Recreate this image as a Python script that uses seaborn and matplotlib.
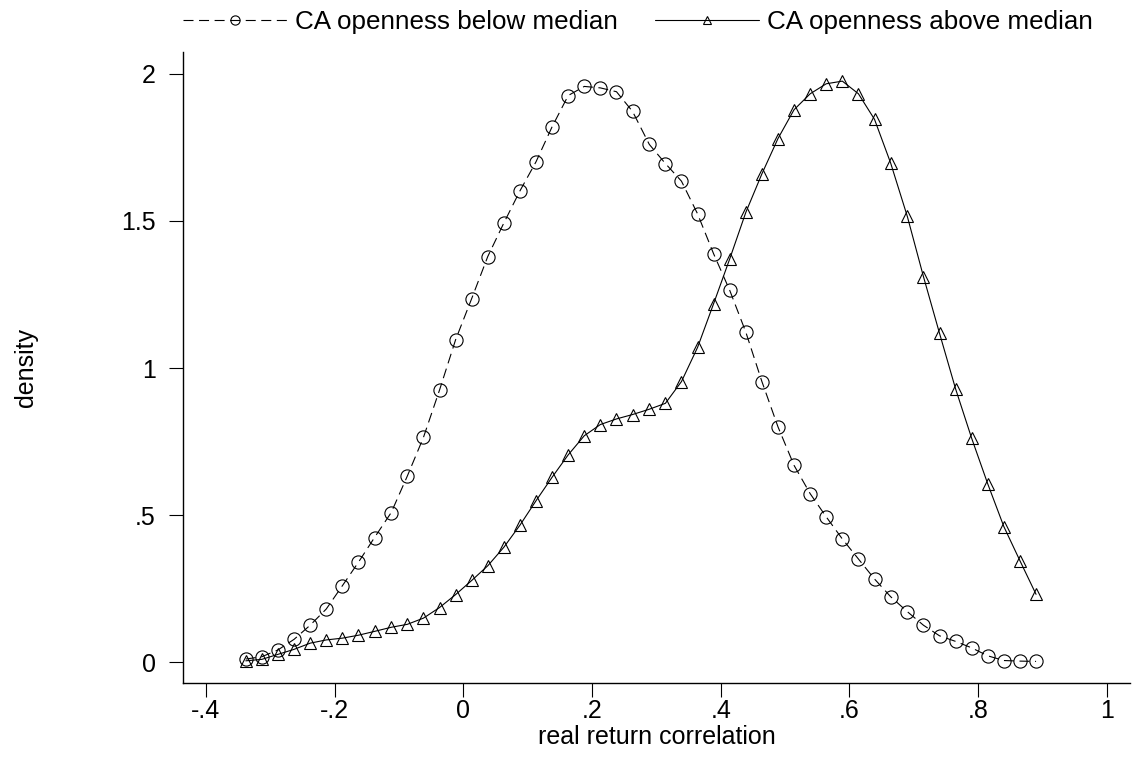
import matplotlib
matplotlib.use("Agg")
import matplotlib.pyplot as plt
import seaborn as sns
import numpy as np

# ---- data ----
x_grid = [-0.338, -0.313, -0.288, -0.263, -0.238, -0.213, -0.188, -0.163, -0.138, -0.112,
          -0.087, -0.062, -0.037, -0.012, 0.013, 0.038, 0.063, 0.088, 0.113, 0.138,
          0.163, 0.188, 0.213, 0.238, 0.263, 0.289, 0.314, 0.339, 0.364, 0.389,
          0.414, 0.439, 0.464, 0.489, 0.514, 0.539, 0.564, 0.589, 0.614, 0.639,
          0.664, 0.690, 0.715, 0.740, 0.765, 0.790, 0.815, 0.840, 0.865, 0.890]

density_below = [0.011, 0.019, 0.042, 0.078, 0.126, 0.181, 0.260, 0.340, 0.424, 0.509,
                 0.633, 0.764, 0.925, 1.096, 1.236, 1.379, 1.493, 1.602, 1.701, 1.820,
                 1.926, 1.957, 1.952, 1.939, 1.872, 1.760, 1.695, 1.635, 1.524, 1.388,
                 1.264, 1.122, 0.954, 0.800, 0.669, 0.573, 0.494, 0.419, 0.351, 0.283,
                 0.223, 0.172, 0.126, 0.090, 0.071, 0.049, 0.022, 0.006, 0.004, 0.003]

density_above = [0.005, 0.010, 0.027, 0.044, 0.065, 0.076, 0.082, 0.092, 0.105, 0.119,
                 0.129, 0.150, 0.186, 0.230, 0.278, 0.328, 0.391, 0.466, 0.549, 0.629,
                 0.705, 0.770, 0.808, 0.827, 0.842, 0.860, 0.880, 0.954, 1.070, 1.219,
                 1.371, 1.529, 1.660, 1.780, 1.878, 1.932, 1.966, 1.975, 1.932, 1.845,
                 1.697, 1.515, 1.311, 1.118, 0.929, 0.761, 0.606, 0.461, 0.345, 0.231]

label_below = "CA openness below median"
label_above = "CA openness above median"

x_ticks = [-0.4, -0.2, 0, 0.2, 0.4, 0.6, 0.8, 1]
x_tick_labels = ["-.4", "-.2", "0", ".2", ".4", ".6", ".8", "1"]
y_ticks = [0, 0.5, 1, 1.5, 2]
y_tick_labels = ["0", ".5", "1", "1.5", "2"]

# ---- style ----
sns.set_style("ticks")
plt.rcParams["font.family"] = ["Liberation Sans", "DejaVu Sans"]
plt.rcParams["text.color"] = "black"
plt.rcParams["axes.labelcolor"] = "black"
plt.rcParams["xtick.color"] = "black"
plt.rcParams["ytick.color"] = "black"
plt.rcParams["axes.edgecolor"] = "black"
FS = 18

fig = plt.figure(figsize=(11.35, 7.61), dpi=100)
ax = fig.add_axes([183 / 1135, (761 - 683.3) / 761, 947 / 1135, (683.3 - 51.7) / 761])

sns.lineplot(x=x_grid, y=density_below, ax=ax, color="black", linewidth=0.8,
             linestyle=(0, (9, 5)), marker="o", markersize=9.5,
             markerfacecolor="none", markeredgecolor="black", mew=0.8,
             label=label_below, sort=False, estimator=None)
sns.lineplot(x=x_grid, y=density_above, ax=ax, color="black", linewidth=0.8,
             linestyle="-", marker="^", markersize=8.5,
             markerfacecolor="none", markeredgecolor="black", mew=0.8,
             label=label_above, sort=False, estimator=None)

ax.set_xlim(-0.4356, 1.036)
ax.set_ylim(-0.0714, 2.075)
ax.set_xticks(x_ticks)
ax.set_xticklabels(x_tick_labels)
ax.set_yticks(y_ticks)
ax.set_yticklabels(y_tick_labels)
ax.tick_params(axis="both", direction="out", length=10, width=0.8, color="black",
               labelsize=FS, labelcolor="black")
ax.tick_params(axis="x", pad=1)
ax.tick_params(axis="y", pad=9.5)

for s in ["top", "right"]:
    ax.spines[s].set_visible(False)
for s in ["left", "bottom"]:
    ax.spines[s].set_linewidth(1.0)
    ax.spines[s].set_color("black")

ax.set_xlabel("real return correlation", fontsize=FS, labelpad=2, color="black")
ax.set_ylabel("density", fontsize=FS, color="black")
ax.yaxis.set_label_coords((38 - 183) / 947, 0.5)

handles, labels = ax.get_legend_handles_labels()
if ax.get_legend() is not None:
    ax.get_legend().remove()
leg = fig.legend(handles, labels, loc="center left", bbox_to_anchor=(183 / 1135, 1 - 22 / 761),
                 ncol=2, frameon=False, fontsize=18.7, handlelength=4.0, handletextpad=0.3,
                 columnspacing=1.45, borderpad=0, borderaxespad=0, markerscale=0.7)
for t in leg.get_texts():
    t.set_color("black")

fig.savefig("out.png", dpi=100, facecolor="white")
